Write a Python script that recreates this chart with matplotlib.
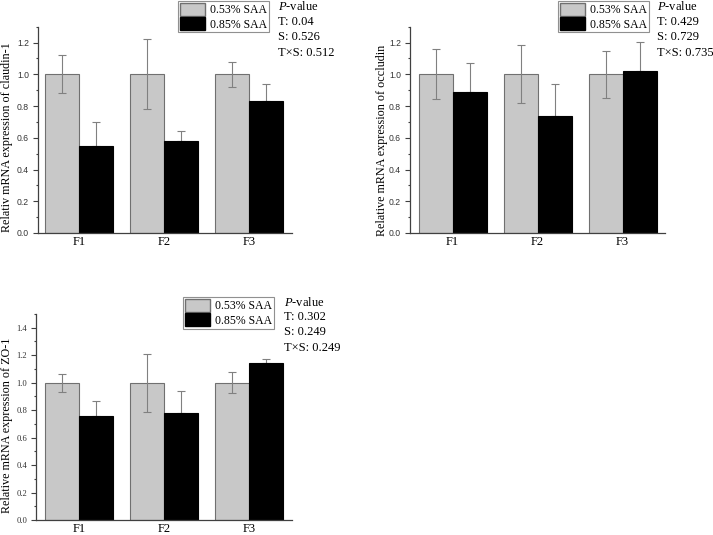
import numpy as np
import matplotlib
matplotlib.use("Agg")
import matplotlib.pyplot as plt
from matplotlib.patches import Patch
from matplotlib.ticker import MultipleLocator

plt.rcParams['mathtext.fontset'] = 'custom'
plt.rcParams['mathtext.it'] = 'Liberation Serif:italic'
plt.rcParams['mathtext.rm'] = 'Liberation Serif'

groups = ["F1", "F2", "F3"]
series = ["0.53% SAA", "0.85% SAA"]

# claudin-1
cld_low = [1.0, 1.0, 1.0]
cld_low_err = [0.12, 0.22, 0.08]
cld_high = [0.55, 0.58, 0.83]
cld_high_err = [0.15, 0.06, 0.11]
cld_p = ["T: 0.04", "S: 0.526", "T×S: 0.512"]

# occludin
occ_low = [1.0, 1.0, 1.0]
occ_low_err = [0.158, 0.183, 0.15]
occ_high = [0.89, 0.74, 1.02]
occ_high_err = [0.18, 0.20, 0.185]
occ_p = ["T: 0.429", "S: 0.729", "T×S: 0.735"]

# ZO-1
zo_low = [1.0, 1.0, 1.0]
zo_low_err = [0.065, 0.21, 0.075]
zo_high = [0.76, 0.78, 1.14]
zo_high_err = [0.11, 0.157, 0.03]
zo_p = ["T: 0.302", "S: 0.249", "T×S: 0.249"]

W, H = 713, 535
fig = plt.figure(figsize=(W / 100, H / 100), dpi=100)


def px_axes(left, right, bottom, top):
    return fig.add_axes([left / W, 1 - bottom / H, (right - left) / W, (bottom - top) / H])


def panel(box, low, low_err, high, high_err, ylabel, ymax, xlim, tickfont,
          label_xy, leg_xy, ptext_xy, pvals):
    ax = px_axes(*box)
    x = np.arange(1, len(groups) + 1)
    w = 0.4
    ax.bar(x - w / 2, low, w, color="#c8c8c8", edgecolor="#707070", linewidth=0.8, zorder=2)
    ax.bar(x + w / 2, high, w, color="black", edgecolor="black", linewidth=0.8, zorder=2)
    ax.errorbar(x - w / 2, low, yerr=low_err, fmt="none", ecolor="#808080",
                elinewidth=0.8, capsize=3, capthick=0.8, zorder=3)
    ax.errorbar(x + w / 2, high, yerr=[np.zeros(len(high)), high_err], fmt="none",
                ecolor="#808080", elinewidth=0.8, capsize=3, capthick=0.8, zorder=1)
    ax.set_xlim(*xlim)
    ax.set_ylim(0, ymax)
    ax.yaxis.set_major_locator(MultipleLocator(0.2))
    ax.yaxis.set_minor_locator(MultipleLocator(0.1))
    ax.set_xticks(x)
    ax.set_xticklabels(groups, fontfamily="Liberation Serif", fontsize=9)
    ax.tick_params(axis="x", length=0, pad=2.5)
    ax.tick_params(axis="y", which="major", length=3.4, width=0.8, color="#404040", pad=3)
    ax.tick_params(axis="y", which="minor", length=1.8, width=0.8, color="#404040")
    for lab in ax.get_yticklabels():
        lab.set_fontfamily(tickfont)
        lab.set_fontsize(6.2)
        lab.set_color("#333333")
    ax.set_ylabel(ylabel, fontfamily="Liberation Serif", fontsize=8.7)
    # label position from the picture (right edge x, centre y) in pixels
    lx = (label_xy[0] - box[0]) / (box[1] - box[0])
    ly = (box[2] - label_xy[1]) / (box[2] - box[3])
    ax.yaxis.set_label_coords(lx, ly)
    for s in ["top", "right"]:
        ax.spines[s].set_visible(False)
    for s in ["left", "bottom"]:
        ax.spines[s].set_color("#404040")
        ax.spines[s].set_linewidth(0.9)
    handles = [Patch(facecolor="#c8c8c8", edgecolor="#707070"), Patch(facecolor="black", edgecolor="black")]
    leg = fig.legend(handles, series, loc="upper left",
                     bbox_to_anchor=(leg_xy[0] / W, 1 - leg_xy[1] / H),
                     prop={"family": "Liberation Serif", "size": 8.5},
                     fancybox=False, framealpha=1, edgecolor="#909090",
                     handlelength=2.1, handleheight=1.3, handletextpad=0.5,
                     borderpad=0.15, labelspacing=0.1, borderaxespad=0)
    leg.get_frame().set_linewidth(0.8)
    lines = ["$P$-value"] + pvals
    for i, t in enumerate(lines):
        fig.text(ptext_xy[0] / W, 1 - (ptext_xy[1] + 15.2 * i) / H, t,
                 fontfamily="Liberation Serif", fontsize=9, va="center", ha="left")
    return ax


panel((38, 292, 233, 26.7), cld_low, cld_low_err, cld_high, cld_high_err,
      "Relativ mRNA expression of claudin-1", 1.3, (0.518, 3.506), "Liberation Sans",
      (13, 137), (178, 1), (278, 7), cld_p)
panel((410, 665, 233, 26.7), occ_low, occ_low_err, occ_high, occ_high_err,
      "Relative mRNA expression of occludin", 1.3, (0.498, 3.5), "Liberation Sans",
      (388, 140), (558, 1), (657, 7), occ_p)
panel((36, 292, 520, 314), zo_low, zo_low_err, zo_high, zo_high_err,
      "Relative mRNA expression of ZO-1", 1.5, (0.49, 3.506), "Liberation Serif",
      (13, 425), (183, 297), (284, 302), zo_p)

fig.savefig("out.png", dpi=100)
